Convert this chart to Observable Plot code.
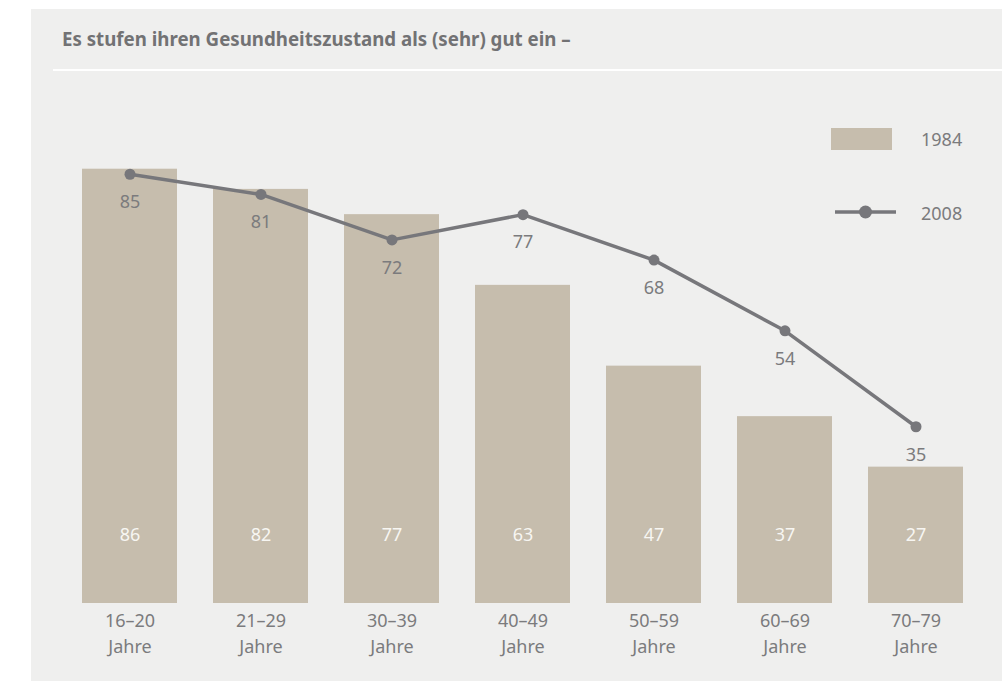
<!DOCTYPE html>
<html>
<head>
<meta charset="utf-8">
<script src="https://cdn.jsdelivr.net/npm/d3@7"></script>
<script src="https://cdn.jsdelivr.net/npm/@observablehq/plot@0.6"></script>
<style>
  html, body { margin: 0; padding: 0; background: #ffffff; }
  #wrap { position: relative; width: 1002px; height: 681px; overflow: hidden; font-family: "Noto Sans", Roboto, sans-serif; }
  #panel { position: absolute; left: 31px; top: 9px; right: 0; bottom: 0; background: #efefee; }
  #title { position: absolute; left: 62px; top: 30px; font-weight: 700; font-size: 18.7px; line-height: 1; color: #727274; white-space: nowrap; }
  #rule { position: absolute; left: 53px; top: 69px; right: 0; height: 2px; background: #ffffff; }
  #chart { position: absolute; left: 0; top: 0; }
  .leg { position: absolute; font-size: 18px; line-height: 18px; color: #7b7b7d; }
</style>
</head>
<body>
<div id="wrap">
  <div id="panel"></div>
  <div id="title">Es stufen ihren Gesundheitszustand als (sehr) gut ein –</div>
  <div id="rule"></div>
  <div id="chart"></div>
  <div id="legend"></div>
</div>
<script>
// ---- data ----
const ageGroups = ["16–20", "21–29", "30–39", "40–49", "50–59", "60–69", "70–79"];
const ageUnit = "Jahre";
const values1984 = [86, 82, 77, 63, 47, 37, 27];
const values2008 = [85, 81, 72, 77, 68, 54, 35];
const seriesNames = ["1984", "2008"];

const barColor = "#c6bdad";
const lineColor = "#77777b";
const textColor = "#7b7b7d";

const rows = ageGroups.map((g, i) => ({group: g, v1984: values1984[i], v2008: values2008[i]}));

const chart = Plot.plot({
  width: 1002,
  height: 681,
  marginLeft: 62,
  marginRight: 18,
  marginTop: 98,
  marginBottom: 78,
  style: {background: "transparent", fontFamily: "'Noto Sans', Roboto, sans-serif", overflow: "visible"},
  x: {domain: ageGroups, paddingInner: 0.271, paddingOuter: 0.1355, align: 0.5, label: null},
  y: {domain: [0, 100], axis: null},
  marks: [
    Plot.barY(rows, {x: "group", y: "v1984", fill: barColor}),
    Plot.text(rows, {x: "group", text: d => String(d.v1984), frameAnchor: "bottom", lineAnchor: "middle", dy: -68, fill: "#f7f6f2", fontSize: 18}),
    Plot.line(rows, {x: "group", y: "v2008", stroke: lineColor, strokeWidth: 3.5}),
    Plot.dot(rows, {x: "group", y: "v2008", r: 5.5, fill: lineColor}),
    Plot.text(rows, {x: "group", y: "v2008", text: d => String(d.v2008), dy: 28, fill: textColor, fontSize: 18}),
    Plot.axisX({tickSize: 0, tickPadding: 5.5, fontSize: 18, lineHeight: 1.42, fill: textColor,
                tickFormat: d => `${d}\n${ageUnit}`, label: null})
  ]
});
document.getElementById("chart").appendChild(chart);

// ---- legend ----
const legend = document.getElementById("legend");
legend.innerHTML = `
  <div style="position:absolute;left:831px;top:128px;width:61px;height:22px;background:${barColor}"></div>
  <div class="leg" style="left:921px;top:130px">${seriesNames[0]}</div>
  <svg style="position:absolute;left:835px;top:204px" width="62" height="16">
    <line x1="0" y1="8" x2="61" y2="8" stroke="${lineColor}" stroke-width="3.5"/>
    <circle cx="30.5" cy="8" r="6.5" fill="${lineColor}"/>
  </svg>
  <div class="leg" style="left:921px;top:204px">${seriesNames[1]}</div>
`;
</script>
</body>
</html>
